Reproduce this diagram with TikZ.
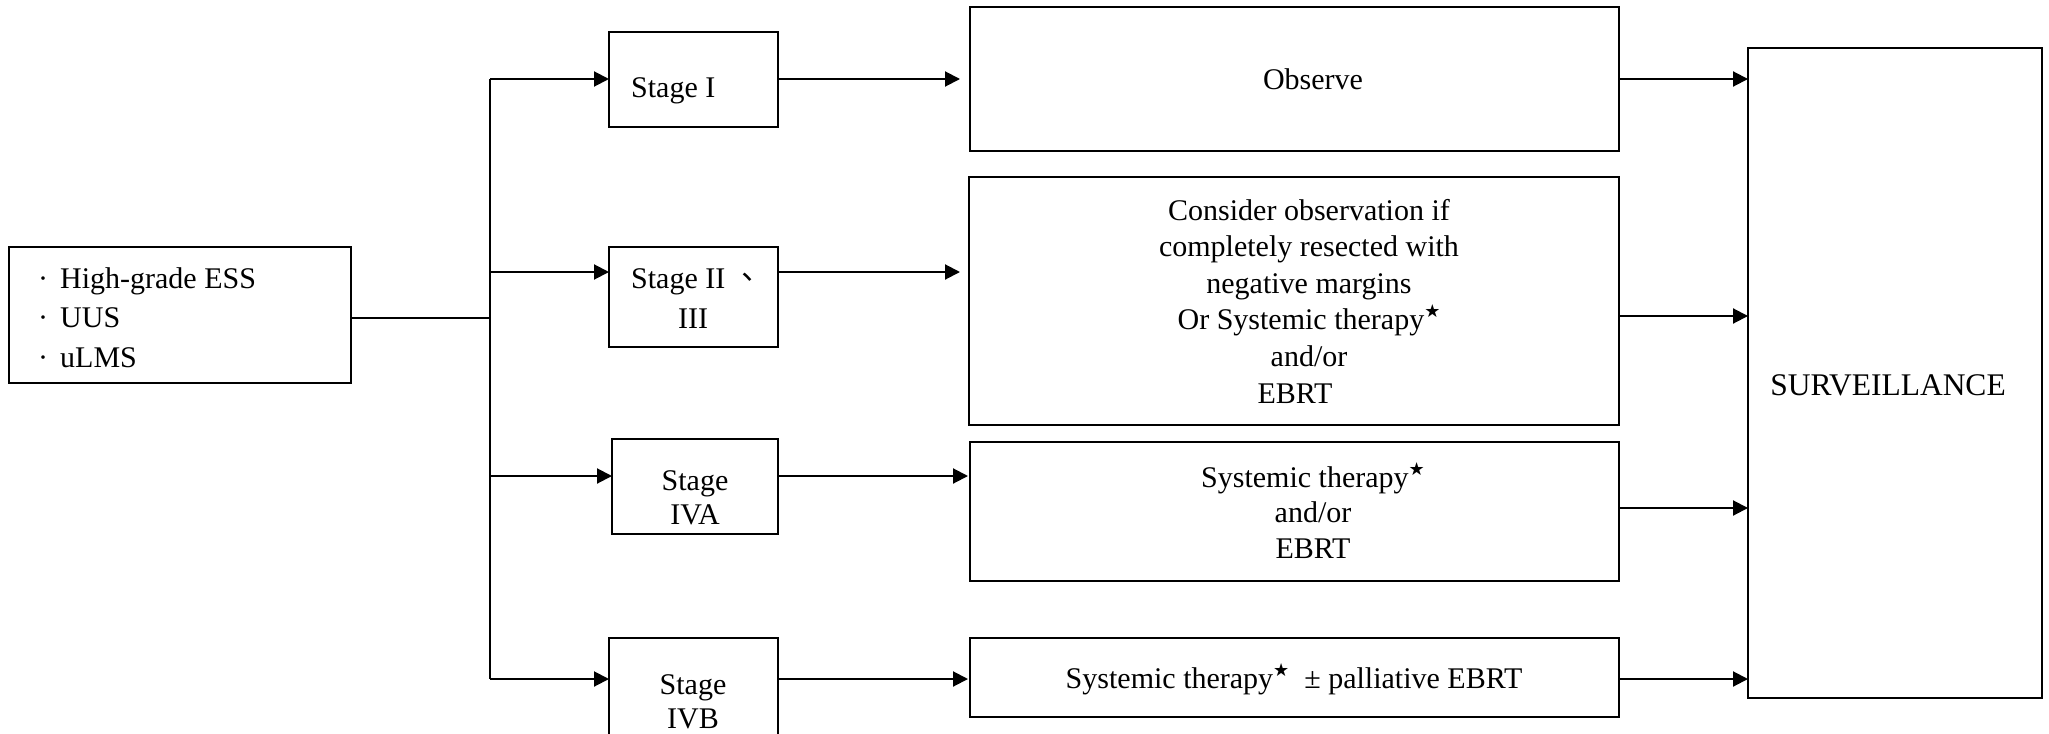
\documentclass[tikz,border=0pt]{standalone}
\usepackage{fontspec}
\setmainfont{Liberation Serif}
\newfontfamily\symbolfont{DejaVu Sans}
\newfontfamily\cjkfont{Noto Sans CJK TC}
\usetikzlibrary{arrows.meta}
% superscript star after "Systemic therapy"
\newcommand{\starmark}{\raisebox{12pt}{\symbolfont\fontsize{18}{18}\selectfont ★}}

\begin{document}
\begin{tikzpicture}[x=1pt, y=-1pt,
  box/.style={draw, line width=2pt, inner sep=0pt, outer sep=0pt, anchor=north west},
  wire/.style={line width=2pt},
  arr/.style={line width=2pt, -{Triangle[length=15pt, width=15pt]}},
  plain/.style={font=\fontsize{30}{36}\selectfont, inner sep=0pt},
  stagetxt/.style={font=\fontsize{30}{34}\selectfont, inner sep=0pt, align=center},
  treattxt/.style={font=\fontsize{30}{35.5}\selectfont, inner sep=0pt, align=center}]

\clip (0,0) rectangle (2049,733);
\fill[white] (0,0) rectangle (2049,733);

% source box
\node[box, minimum width=342pt, minimum height=136pt] (src) at (9,247) {};
\node[plain, anchor=base west] (src-1) at (38,288) {·\hspace{12pt}High-grade ESS};
\node[plain, anchor=base west] (src-2) at (38,327) {·\hspace{12pt}UUS};
\node[plain, anchor=base west] (src-3) at (38,367) {·\hspace{12pt}uLMS};

% stage boxes
\node[box, minimum width=169pt, minimum height=95pt]  (s1)  at (609,32)  {};
\node[box, minimum width=169pt, minimum height=100pt] (s2)  at (609,247) {};
\node[box, minimum width=166pt, minimum height=95pt]  (s4a) at (612,439) {};
\node[box, minimum width=169pt, minimum height=140pt] (s4b) at (609,638) {};

% multi-line labels are placed by the baseline of their last line
\node[stagetxt, anchor=base west] (s1-t) at (631,98) {Stage I};
\node[stagetxt, anchor=base west] (s2-t) at (631,288) {Stage II {\cjkfont 、}};
\node[stagetxt, anchor=base] (s2-u) at (693,328) {III};
\node[stagetxt, anchor=base] (s4a-t) at (695,524) {Stage\\IVA};
\node[stagetxt, anchor=base] (s4b-t) at (693,728) {Stage\\IVB};

% treatment boxes
\node[box, minimum width=649pt, minimum height=144pt] (t1) at (970,7)   {};
\node[box, minimum width=650pt, minimum height=248pt] (t2) at (969,177) {};
\node[box, minimum width=649pt, minimum height=139pt] (t3) at (970,442) {};
\node[box, minimum width=649pt, minimum height=79pt]  (t4) at (970,638) {};

\node[treattxt, anchor=base] (t1-t) at (1313,90) {Observe};
\node[treattxt, font=\fontsize{30}{36.6}\selectfont, anchor=base] (t2-t) at (1309,403)
  {Consider observation if\\completely resected with\\negative margins\\Or Systemic therapy\starmark\\and/or\\EBRT\hspace*{28pt}};
\node[treattxt, anchor=base] (t3-t) at (1313,558)
  {Systemic therapy\starmark\\and/or\\EBRT};
\node[treattxt, anchor=base] (t4-t) at (1294,688)
  {Systemic therapy\starmark\ \ ± palliative EBRT};

% surveillance box
\node[box, minimum width=294pt, minimum height=650pt] (surv) at (1748,48) {};
\node[plain, font=\fontsize{31.5}{36}\selectfont, anchor=base] (surv-t) at (1888,395) {SURVEILLANCE};

% trunk and branches
\coordinate (j)  at (490,318);
\coordinate (b1) at (490,79);
\coordinate (b2) at (490,272);
\coordinate (b3) at (490,476);
\coordinate (b4) at (490,679);
\draw[wire] (src.east |- j) -- (j);
\draw[wire] (b1) -- (b4);
\draw[arr] (b1) -- (s1.west |- b1);
\draw[arr] (b2) -- (s2.west |- b2);
\draw[arr] (b3) -- (s4a.west |- b3);
\draw[arr] (b4) -- (s4b.west |- b4);

% stage to treatment
\draw[arr, shorten >=10pt] (s1.east |- b1) -- (t1.west |- b1);
\draw[arr, shorten >=9pt]  (s2.east |- b2) -- (t2.west |- b2);
\draw[arr, shorten >=2pt]  (s4a.east |- b3) -- (t3.west |- b3);
\draw[arr, shorten >=2pt]  (s4b.east |- b4) -- (t4.west |- b4);

% treatment to surveillance
\coordinate (o1) at (1700,79);
\coordinate (o2) at (1700,316);
\coordinate (o3) at (1700,508);
\coordinate (o4) at (1700,679);
\draw[arr] (t1.east |- o1) -- (surv.west |- o1);
\draw[arr] (t2.east |- o2) -- (surv.west |- o2);
\draw[arr] (t3.east |- o3) -- (surv.west |- o3);
\draw[arr] (t4.east |- o4) -- (surv.west |- o4);
\end{tikzpicture}
\end{document}
